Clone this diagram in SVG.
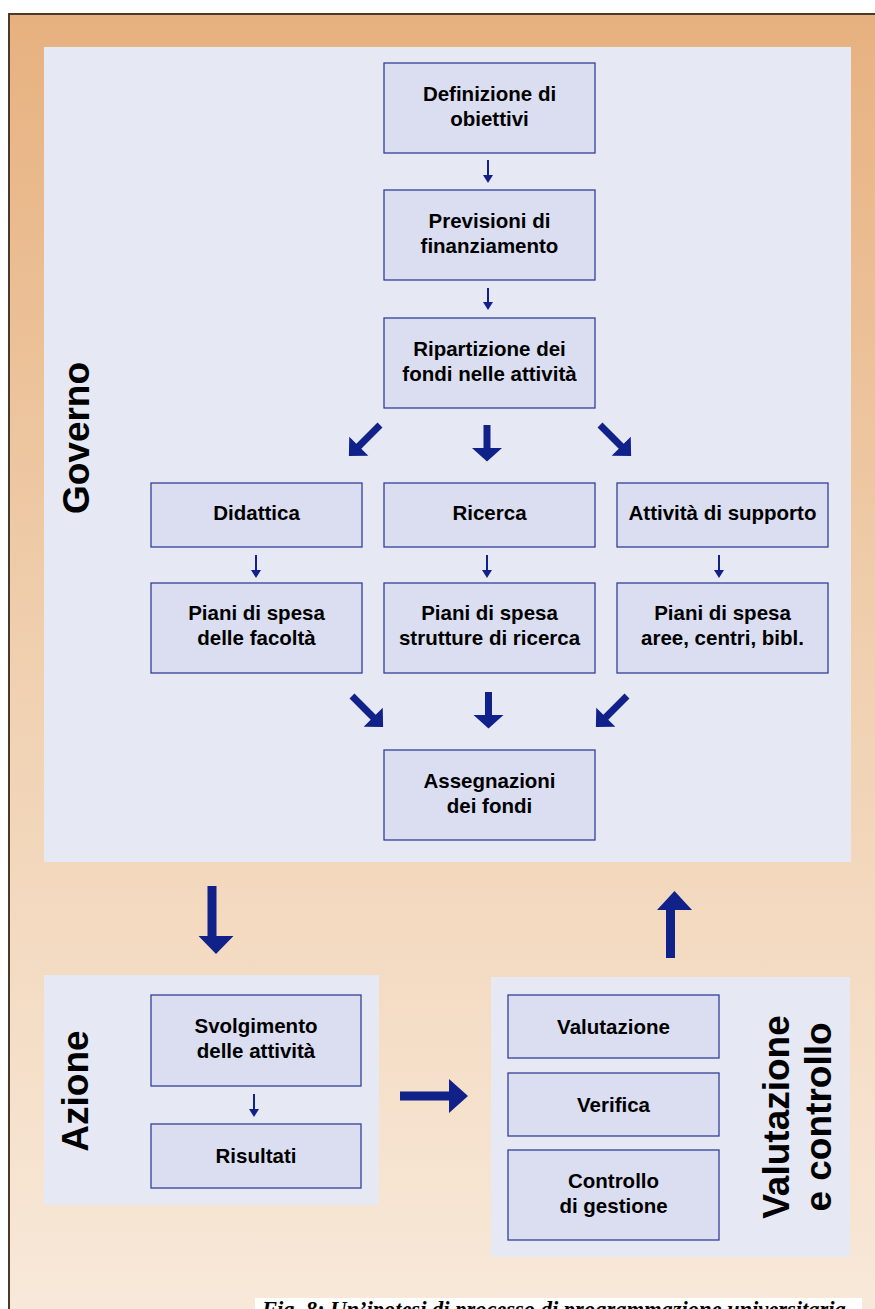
<svg xmlns="http://www.w3.org/2000/svg" width="875" height="1309" viewBox="0 0 875 1309">
<defs>
<linearGradient id="bg" x1="0" y1="0" x2="0" y2="1">
<stop offset="0" stop-color="#e7b17f"/>
<stop offset="0.5" stop-color="#f0d0b0"/>
<stop offset="1" stop-color="#f8e9da"/>
</linearGradient>
<style>
.panel{fill:#e6e8f4}
.box{fill:#dadef0;stroke:#34409a;stroke-width:1.3}
.t{font-family:"Liberation Sans",Arial,sans-serif;font-weight:bold;font-size:20.5px;fill:#000;text-anchor:middle}
.big{font-family:"Liberation Sans",Arial,sans-serif;font-weight:bold;font-size:37px;fill:#000;text-anchor:middle}
.arr{fill:#10218a}
.sm{stroke:#10218a;stroke-width:2;fill:none}
</style>
</defs>
<rect x="0" y="0" width="875" height="1309" fill="#fff"/>
<rect x="9" y="14" width="880" height="1310" fill="url(#bg)" stroke="#4a3a2a" stroke-width="2"/>
<g id="panel-governo">
<rect class="panel" x="44" y="47" width="807" height="815"/>
<text class="big" transform="translate(89,438) rotate(-90)">Governo</text>
</g>
<g id="panel-azione">
<rect class="panel" x="44" y="975" width="335" height="230"/>
<text class="big" transform="translate(88,1091) rotate(-90)">Azione</text>
</g>
<g id="panel-valutazione">
<rect class="panel" x="491" y="977" width="359" height="280"/>
<text class="big" transform="translate(789,1117) rotate(-90)">Valutazione</text>
<text class="big" transform="translate(831,1117) rotate(-90)">e controllo</text>
</g>
<g id="n1"><rect class="box" x="384" y="63" width="211" height="90"/><text class="t" x="489.5" y="101">Definizione di</text><text class="t" x="489.5" y="126">obiettivi</text></g>
<g id="n2"><rect class="box" x="384" y="190" width="211" height="90"/><text class="t" x="489.5" y="228">Previsioni di</text><text class="t" x="489.5" y="253">finanziamento</text></g>
<g id="n3"><rect class="box" x="384" y="318" width="211" height="90"/><text class="t" x="489.5" y="356">Ripartizione dei</text><text class="t" x="489.5" y="381">fondi nelle attività</text></g>
<g id="n4"><rect class="box" x="151" y="483" width="211" height="64"/><text class="t" x="256.5" y="520">Didattica</text></g>
<g id="n5"><rect class="box" x="384" y="483" width="211" height="64"/><text class="t" x="489.5" y="520">Ricerca</text></g>
<g id="n6"><rect class="box" x="617" y="483" width="211" height="64"/><text class="t" x="722.5" y="520">Attività di supporto</text></g>
<g id="n7"><rect class="box" x="151" y="583" width="211" height="90"/><text class="t" x="256.5" y="620">Piani di spesa</text><text class="t" x="256.5" y="645">delle facoltà</text></g>
<g id="n8"><rect class="box" x="384" y="583" width="211" height="90"/><text class="t" x="489.5" y="620">Piani di spesa</text><text class="t" x="489.5" y="645">strutture di ricerca</text></g>
<g id="n9"><rect class="box" x="617" y="583" width="211" height="90"/><text class="t" x="722.5" y="620">Piani di spesa</text><text class="t" x="722.5" y="645">aree, centri, bibl.</text></g>
<g id="n10"><rect class="box" x="384" y="750" width="211" height="90"/><text class="t" x="489.5" y="788">Assegnazioni</text><text class="t" x="489.5" y="813">dei fondi</text></g>
<g id="n11"><rect class="box" x="151" y="995" width="210" height="91"/><text class="t" x="256" y="1033">Svolgimento</text><text class="t" x="256" y="1058">delle attività</text></g>
<g id="n12"><rect class="box" x="151" y="1124" width="210" height="64"/><text class="t" x="256" y="1163">Risultati</text></g>
<g id="n13"><rect class="box" x="508" y="995" width="211" height="63"/><text class="t" x="613.5" y="1034">Valutazione</text></g>
<g id="n14"><rect class="box" x="508" y="1073" width="211" height="63"/><text class="t" x="613.5" y="1112">Verifica</text></g>
<g id="n15"><rect class="box" x="508" y="1150" width="211" height="90"/><text class="t" x="613.5" y="1188">Controllo</text><text class="t" x="613.5" y="1213">di gestione</text></g>
<g id="connectors">
<g>
<path class="sm" d="M488,160V177"/><path class="arr" d="M483,175h10l-5,8z"/>
<path class="sm" d="M488,288V304"/><path class="arr" d="M483,302h10l-5,8z"/>
<path class="sm" d="M256,555V572"/><path class="arr" d="M251,570h10l-5,8z"/>
<path class="sm" d="M487,555V572"/><path class="arr" d="M482,570h10l-5,8z"/>
<path class="sm" d="M719,555V572"/><path class="arr" d="M714,570h10l-5,8z"/>
<path class="sm" d="M254,1094V1111"/><path class="arr" d="M249,1109h10l-5,8z"/>
</g>
<path class="arr" d="M483.5,425h7v23h11.5l-15,13.5l-15,-13.5h11.5z"/>
<path class="arr" d="M485,692h7v23h11.5l-15,13.5l-15,-13.5h11.5z"/>
<g transform="translate(380,425) rotate(135)"><path class="arr" d="M0,-3.5h30v-10l14,13.5l-14,13.5v-10h-30z"/></g>
<g transform="translate(600,425) rotate(45)"><path class="arr" d="M0,-3.5h30v-10l14,13.5l-14,13.5v-10h-30z"/></g>
<g transform="translate(352,696) rotate(45)"><path class="arr" d="M0,-3.5h30v-10l14,13.5l-14,13.5v-10h-30z"/></g>
<g transform="translate(627,696) rotate(135)"><path class="arr" d="M0,-3.5h30v-10l14,13.5l-14,13.5v-10h-30z"/></g>
<path class="arr" d="M207.5,886h9v50h17l-17.5,18l-17.5,-18h9z"/>
<path class="arr" d="M666,958h9v-48h17l-17.5,-19l-17.5,19h9z"/>
<path class="arr" d="M400,1091.5h49v-12.5l19,17l-19,17v-12.5h-49z"/>
</g>
<g id="caption">
<rect x="255" y="1298" width="607" height="20" fill="#fff"/>
<text x="262" y="1317" font-family="'Liberation Serif','Times New Roman',serif" font-weight="bold" font-style="italic" font-size="22.5" fill="#000">Fig. 8: Un’ipotesi di processo di programmazione universitaria</text>
</g>
</svg>
